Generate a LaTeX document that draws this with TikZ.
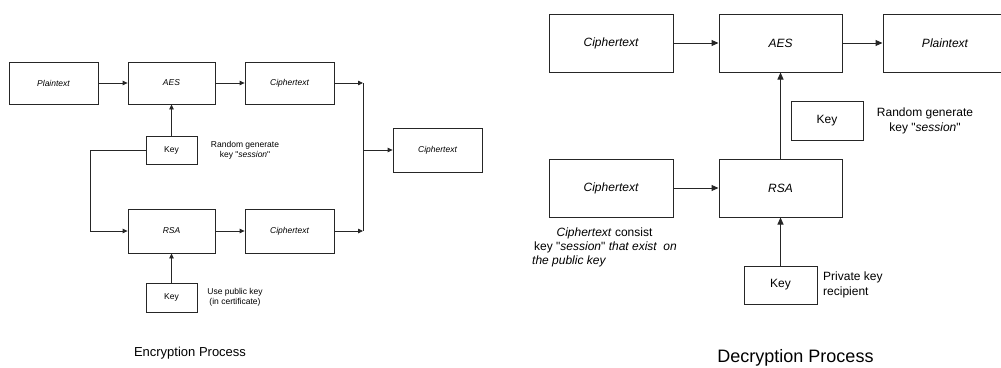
\documentclass[tikz,border=0pt]{standalone}
\usepackage{fontspec}
\setmainfont{Liberation Sans}
\usetikzlibrary{arrows.meta}
\begin{document}
\begin{tikzpicture}[x=1pt,y=-1pt,
  line/.style={draw=black!85,line width=0.8pt},
  arr/.style={line,-{Triangle[length=5pt,width=4.5pt]}},
  arrbig/.style={draw=black!85,line width=1pt,-{Triangle[length=7pt,width=6pt]}},
  boxE/.style={draw=black!85,line width=0.8pt,inner sep=0pt,font=\fontsize{8.5}{10}\selectfont\itshape},
  boxD/.style={draw=black!85,line width=1pt,inner sep=0pt,font=\fontsize{12}{14}\selectfont\itshape},
  noteE/.style={inner sep=0pt,align=center,font=\fontsize{8.5}{10.5}\selectfont},
  noteD/.style={inner sep=0pt,font=\fontsize{12}{15}\selectfont},
  title/.style={inner sep=0pt}]
\useasboundingbox (0,0) rectangle (1001,367);
\clip (0,0) rectangle (1001,367);

% ---------------- Encryption ----------------
\node[boxE,minimum width=89pt,minimum height=42pt] (ptE)  at (53.5,83)  {Plaintext};
\node[boxE,minimum width=87pt,minimum height=42pt] (aesE) at (171.5,83) {AES};
\node[boxE,minimum width=89pt,minimum height=42pt] (ctE1) at (289.5,83) {Ciphertext};
\node[boxE,font=\fontsize{8.5}{10}\selectfont,minimum width=51pt,minimum height=28pt] (keyE1) at (171.5,150) {Key};
\node[boxE,minimum width=87pt,minimum height=44pt] (rsaE) at (171.5,231) {RSA};
\node[boxE,minimum width=89pt,minimum height=44pt] (ctE2) at (289.5,231) {Ciphertext};
\node[boxE,font=\fontsize{8.5}{10}\selectfont,minimum width=51pt,minimum height=29pt] (keyE2) at (171.5,297.5) {Key};
\node[boxE,minimum width=89pt,minimum height=44pt] (ctE3) at (437.5,150) {Ciphertext};

\coordinate (j1) at (363,83);
\coordinate (j2) at (363,231);
\coordinate (jm) at (363,150);

\draw[arr] (ptE.east) -- (aesE.west);
\draw[arr] (aesE.east) -- (ctE1.west);
\draw[arr] (ctE1.east) -- (j1);
\draw[arr] (rsaE.east) -- (ctE2.west);
\draw[arr] (ctE2.east) -- (j2);
\draw[line] (j1) -- (j2);
\draw[arr] (jm) -- (ctE3.west);
\draw[arr] (keyE1.north) -- (aesE.south);
\draw[arr] (keyE1.west) -- ++(-55,0) |- (rsaE.west);
\draw[arr] (keyE2.north) -- (rsaE.south);

\node[noteE] (nE1) at (245,150.5) {Random generate\\key \textquotedbl\textit{session}\textquotedbl};
\node[noteE] (nE2) at (235,297.5) {Use public key\\(in certificate)};
\node[title,font=\fontsize{13}{15}\selectfont] (tE) at (190,353) {Encryption Process};

% ---------------- Decryption ----------------
\node[boxD,minimum width=124pt,minimum height=58pt] (ctD1) at (611,43)    {Ciphertext};
\node[boxD,minimum width=123pt,minimum height=58pt] (aesD) at (780.5,43)  {AES};
\node[boxD,minimum width=124pt,minimum height=58pt] (ptD)  at (945,43)    {Plaintext};
\node[boxD,font=\fontsize{12}{14}\selectfont,minimum width=72pt,minimum height=39pt] (keyD1) at (827,120.5) {Key};
\node[boxD,minimum width=124pt,minimum height=58pt] (ctD2) at (611,188)   {Ciphertext};
\node[boxD,minimum width=123pt,minimum height=58pt] (rsaD) at (780.5,188) {RSA};
\node[boxD,font=\fontsize{12}{14}\selectfont,minimum width=73pt,minimum height=38pt] (keyD2) at (780.5,285) {Key};

\draw[arrbig] (ctD1.east) -- (aesD.west);
\draw[arrbig] (aesD.east) -- (ptD.west);
\draw[arrbig] (rsaD.north) -- (aesD.south);
\draw[arrbig] (ctD2.east) -- (rsaD.west);
\draw[arrbig] (keyD2.north) -- (rsaD.south);

\node[noteD,align=center] (nD1) at (925,120.5) {Random generate\\key \textquotedbl\textit{session}\textquotedbl};
\node[noteD,align=left,anchor=west] (nD2) at (823,285) {Private key\\recipient};
\node[noteD] (nD3) at (604.5,233) {\textit{Ciphertext} consist};
\node[noteD] (nD4) at (605.5,247) {key \textquotedbl\textit{session}\textquotedbl\ \textit{that exist\ \ on}};
\node[noteD,anchor=west] (nD5) at (532,261) {\textit{the public key}};
\node[title,font=\fontsize{18}{20}\selectfont] (tD) at (795.5,358) {Decryption Process};
\end{tikzpicture}
\end{document}
